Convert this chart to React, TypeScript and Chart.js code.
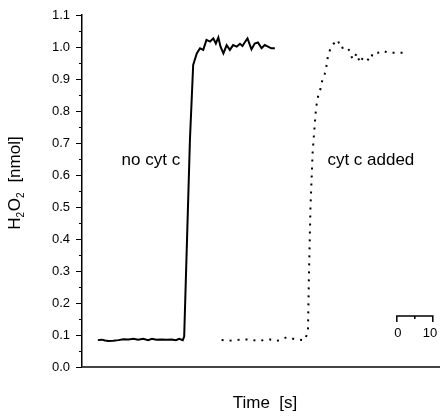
import React, { useEffect, useRef } from "react";
import { Chart, registerables } from "chart.js";

Chart.register(...registerables);

// Time (s) and H2O2 (nmol) without cytochrome c
const timeNoCyt = [4.4, 5.5, 6.4, 7.3, 8.7, 10.1, 11.5, 12.9, 14.3, 15.6, 17.0, 18.4, 19.4, 20.7, 22.1, 23.5, 24.9, 26.1, 27.0, 28.0, 28.4, 30.0, 30.9, 31.9, 32.8, 33.7, 34.6, 35.6, 36.5, 37.2, 37.9, 38.5, 39.3, 40.2, 41.1, 42.0, 43.0, 43.9, 44.6, 45.2, 46.0, 47.1, 48.0, 48.9, 49.9, 50.8, 51.7, 52.6, 53.6];
const h2o2NoCyt = [0.084, 0.0855, 0.083, 0.081, 0.082, 0.084, 0.087, 0.086, 0.088, 0.085, 0.088, 0.084, 0.088, 0.085, 0.086, 0.085, 0.086, 0.084, 0.088, 0.084, 0.095, 0.71, 0.944, 0.98, 0.996, 0.991, 1.022, 1.017, 1.027, 1.011, 1.03, 1.001, 0.98, 1.006, 0.991, 1.006, 1.001, 1.01, 1.003, 1.014, 1.027, 0.993, 1.011, 1.014, 0.996, 1.006, 1.001, 0.996, 0.996];

// Time (s) and H2O2 (nmol) with cytochrome c added
const timeCytAdded = [38.8, 40.6, 42.5, 44.4, 46.7, 49.0, 50.4, 52.2, 54.1, 56.9, 59.6, 61.9, 62.8, 63.1, 63.5, 64.1, 64.5, 64.7, 64.9, 65.2, 65.6, 66.2, 66.7, 67.5, 68.0, 68.4, 69.1, 70.0, 71.1, 71.9, 73.4, 74.4, 75.2, 76.4, 77.2, 78.3, 80.0, 80.9, 82.3, 83.7, 85.1, 86.5, 89.2];
const h2o2CytAdded = [0.084, 0.082, 0.084, 0.086, 0.086, 0.081, 0.084, 0.086, 0.081, 0.093, 0.086, 0.084, 0.11, 0.3, 0.5, 0.67, 0.73, 0.76, 0.79, 0.82, 0.845, 0.866, 0.892, 0.917, 0.944, 0.975, 0.996, 1.011, 1.022, 0.996, 1.001, 0.988, 0.961, 0.98, 0.951, 0.97, 0.957, 0.982, 0.982, 0.988, 0.982, 0.982, 0.982];

// 10 s scale bar (time, value); null breaks the path
const scaleBarTime = [87.5, 87.5, 97.5, 97.5, 92.5, 92.5, 92.5];
const scaleBarValue: (number | null)[] = [0.141, 0.159, 0.159, 0.141, null, 0.159, 0.15];
const scaleBarLabels = ["0", "10"];
const scaleBarLabelTime = [87.8, 96.7];
const scaleBarLabelValue = 0.106;

const seriesLabels = ["no cyt c", "cyt c added"];
const seriesLabelTime = [11.0, 68.2];
const seriesLabelValue = 0.63;

const xMin = 0;
const xMax = 99.5;
const yMin = 0;
const yMax = 1.1;

const FONT = "'Liberation Sans', Arial, sans-serif";

const toPoints = (xs: number[], ys: (number | null)[]) => xs.map((x, i) => ({ x, y: ys[i] }));

const decorPlugin = {
  id: "decor",
  afterDraw(chart: any) {
    const ctx = chart.ctx;
    const xs = chart.scales.x;
    const ys = chart.scales.y;
    const area = chart.chartArea;
    ctx.save();
    // minor ticks on y axis
    ctx.strokeStyle = "#000";
    ctx.lineWidth = 1;
    for (let v = 0.05; v < yMax; v += 0.1) {
      const py = Math.round(ys.getPixelForValue(v)) + 0.5;
      ctx.beginPath();
      ctx.moveTo(area.left - 3, py);
      ctx.lineTo(area.left, py);
      ctx.stroke();
    }
    // x axis line
    ctx.strokeStyle = "#444";
    ctx.lineWidth = 2;
    ctx.beginPath();
    ctx.moveTo(area.left, area.bottom);
    ctx.lineTo(area.right, area.bottom);
    ctx.stroke();

    ctx.fillStyle = "#000";
    // series labels
    ctx.font = `17px ${FONT}`;
    ctx.textAlign = "left";
    ctx.textBaseline = "alphabetic";
    seriesLabels.forEach((s, i) => {
      ctx.fillText(s, xs.getPixelForValue(seriesLabelTime[i]), ys.getPixelForValue(seriesLabelValue));
    });
    // scale bar labels
    ctx.font = `13px ${FONT}`;
    ctx.textAlign = "center";
    ctx.textBaseline = "middle";
    scaleBarLabels.forEach((s, i) => {
      ctx.fillText(s, xs.getPixelForValue(scaleBarLabelTime[i]), ys.getPixelForValue(scaleBarLabelValue));
    });
    // x title
    ctx.font = `17px ${FONT}`;
    ctx.textAlign = "center";
    ctx.textBaseline = "alphabetic";
    ctx.fillText("Time  [s]", 265, 408);
    // y title with subscripts, rotated
    ctx.translate(20, 183);
    ctx.rotate(-Math.PI / 2);
    const parts: [string, boolean][] = [["H", false], ["2", true], ["O", false], ["2", true], ["  [nmol]", false]];
    const big = `17px ${FONT}`;
    const small = `10px ${FONT}`;
    let total = 0;
    parts.forEach(([t, sub]) => {
      ctx.font = sub ? small : big;
      total += ctx.measureText(t).width + (sub ? 0.5 : 0);
    });
    let cx = -total / 2;
    ctx.textAlign = "left";
    parts.forEach(([t, sub]) => {
      ctx.font = sub ? small : big;
      ctx.fillText(t, cx, sub ? 4 : 0);
      cx += ctx.measureText(t).width + (sub ? 0.5 : 0);
    });
    ctx.restore();
  },
};

export default function App() {
  const ref = useRef<HTMLCanvasElement | null>(null);
  useEffect(() => {
    document.body.style.margin = "0";
    if (!ref.current) return;
    const chart = new Chart(ref.current, {
      type: "line",
      data: {
        datasets: [
          {
            label: "no cyt c",
            data: toPoints(timeNoCyt, h2o2NoCyt),
            borderColor: "#000",
            borderWidth: 2,
            pointRadius: 0,
            tension: 0,
            fill: false,
          },
          {
            label: "cyt c added",
            data: toPoints(timeCytAdded, h2o2CytAdded),
            borderColor: "#000",
            borderWidth: 2,
            borderDash: [2, 6],
            pointRadius: 0,
            tension: 0,
            fill: false,
          },
          {
            label: "scale",
            data: toPoints(scaleBarTime, scaleBarValue),
            borderColor: "#000",
            borderWidth: 1.5,
            pointRadius: 0,
            spanGaps: false,
            fill: false,
          },
        ],
      },
      options: {
        responsive: false,
        animation: false,
        layout: { padding: { top: 15, right: 0, bottom: 52, left: 0 } },
        plugins: { legend: { display: false }, tooltip: { enabled: false }, title: { display: false } },
        scales: {
          x: { type: "linear", min: xMin, max: xMax, display: false },
          y: {
            type: "linear",
            min: yMin,
            max: yMax,
            afterFit: (scale: any) => {
              scale.width = 82;
            },
            ticks: {
              stepSize: 0.1,
              color: "#000",
              font: { size: 13, family: FONT },
              padding: 6,
              callback: (v: any) => Number(v).toFixed(1),
            },
            grid: { drawOnChartArea: false, drawTicks: true, tickLength: 6, tickColor: "#000", lineWidth: 1 },
            border: { color: "#000", width: 1.5 },
          },
        },
      },
      plugins: [decorPlugin],
    });
    return () => chart.destroy();
  }, []);
  return (
    <div style={{ width: 440, height: 419 }}>
      <canvas ref={ref} width={440} height={419} />
    </div>
  );
}
